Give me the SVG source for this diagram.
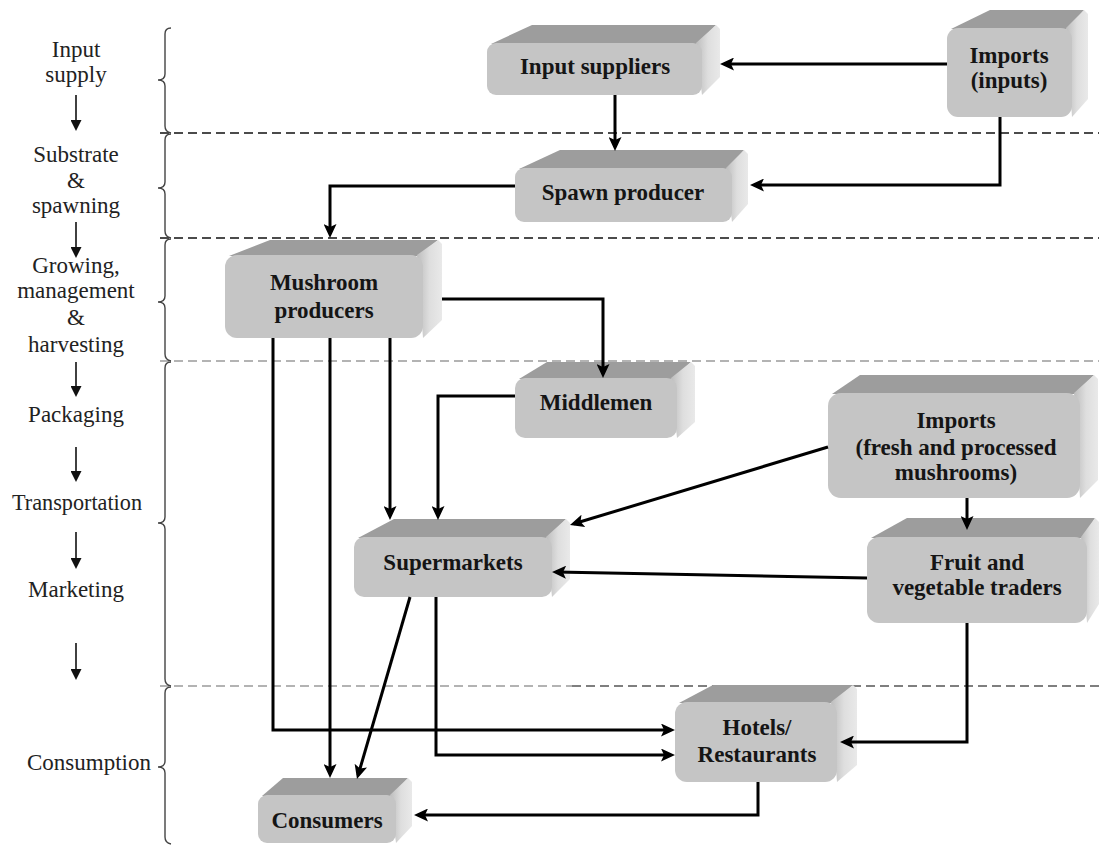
<svg xmlns="http://www.w3.org/2000/svg" width="1099" height="846" viewBox="0 0 1099 846">
<style>
.top{fill:#9d9d9d}
.side{fill:url(#sg)}
.front{fill:#c5c5c5}
.bl{font-family:'Liberation Serif','DejaVu Serif',serif;font-weight:bold;font-size:23px;fill:#151515;text-anchor:middle}
.lbl{font-family:'Liberation Serif','DejaVu Serif',serif;font-size:23px;fill:#222;text-anchor:middle}
.conn{fill:none;stroke:#000;stroke-width:3;marker-end:url(#ah)}
.larr{stroke:#111;stroke-width:1.6;marker-end:url(#sm)}
.brace{fill:none;stroke:#444;stroke-width:1.4}
.dk{stroke:#111;stroke-width:1.4;stroke-dasharray:9 5}
.gr{stroke:#9a9a9a;stroke-width:1.4;stroke-dasharray:9 5}
.gd{stroke:#555;stroke-width:1.4;stroke-dasharray:9 5}
</style>
<defs>
<linearGradient id="sg" x1="0" y1="0" x2="1" y2="0">
<stop offset="0" stop-color="#bdbdbd"/>
<stop offset="0.5" stop-color="#dedede"/>
<stop offset="1" stop-color="#e9e9e9"/>
</linearGradient>
<marker id="ah" markerUnits="userSpaceOnUse" markerWidth="15" markerHeight="13" refX="10" refY="6.5" orient="auto">
<path d="M0,0 L14,6.5 L0,13 L3,6.5 z" fill="#000"/>
</marker>
<marker id="sm" markerUnits="userSpaceOnUse" markerWidth="11" markerHeight="11" refX="9" refY="5.5" orient="auto">
<path d="M0,0 L11,5.5 L0,11 z" fill="#111"/>
</marker>
</defs>
<rect width="1099" height="846" fill="#fff"/>

<g id="stages">
<line class="dk" x1="160" y1="133" x2="1099" y2="133"/>
<line class="dk" x1="160" y1="238" x2="1099" y2="238"/>
<line class="gr" x1="160" y1="361" x2="1099" y2="361"/>
<line class="gr" x1="160" y1="686" x2="572" y2="686"/>
<line class="gd" x1="572" y1="686" x2="1099" y2="686"/>
<path class="brace" d="M171 28 Q165 28 165 34 L165 74 Q165 80 158 80 Q165 80 165 86 L165 126 Q165 132 171 133"/>
<path class="brace" d="M171 134 Q165 134 165 140 L165 182 Q165 188 158 188 Q165 188 165 194 L165 231 Q165 237 171 238"/>
<path class="brace" d="M171 239 Q165 239 165 245 L165 296 Q165 302 158 302 Q165 302 165 308 L165 354 Q165 360 171 361"/>
<path class="brace" d="M171 362 Q165 362 165 368 L165 517 Q165 523 158 523 Q165 523 165 529 L165 679 Q165 685 171 686"/>
<path class="brace" d="M171 687 Q165 687 165 693 L165 761 Q165 767 158 767 Q165 767 165 773 L165 837 Q165 843 171 844"/>
<text class="lbl" font-family="Liberation Serif" x="76" y="57">Input</text>
<text class="lbl" font-family="Liberation Serif" x="76" y="82">supply</text>
<line class="larr" x1="76" y1="95" x2="76" y2="129"/>
<text class="lbl" font-family="Liberation Serif" x="76" y="162">Substrate</text>
<text class="lbl" font-family="Liberation Serif" x="76" y="188">&amp;</text>
<text class="lbl" font-family="Liberation Serif" x="76" y="213">spawning</text>
<line class="larr" x1="76" y1="222" x2="76" y2="256"/>
<text class="lbl" font-family="Liberation Serif" x="76" y="273">Growing,</text>
<text class="lbl" font-family="Liberation Serif" x="76" y="298">management</text>
<text class="lbl" font-family="Liberation Serif" x="76" y="325">&amp;</text>
<text class="lbl" font-family="Liberation Serif" x="76" y="352">harvesting</text>
<line class="larr" x1="76" y1="362" x2="76" y2="395"/>
<text class="lbl" font-family="Liberation Serif" x="76" y="422">Packaging</text>
<line class="larr" x1="76" y1="447" x2="76" y2="480"/>
<text class="lbl" font-family="Liberation Serif" x="77" y="510" textLength="130" lengthAdjust="spacingAndGlyphs">Transportation</text>
<line class="larr" x1="76" y1="532" x2="76" y2="567"/>
<text class="lbl" font-family="Liberation Serif" x="76" y="597">Marketing</text>
<line class="larr" x1="76" y1="643" x2="76" y2="678"/>
<text class="lbl" font-family="Liberation Serif" x="89" y="770">Consumption</text>
</g>

<g id="input-suppliers">
<polygon class="top" points="491,44 532,25 716,25 698,44"/>
<polygon class="side" points="696,43 716,25 720,29 720,77 702,95"/>
<rect class="front" x="487" y="43" width="215" height="52" rx="9"/>
<text class="bl" font-family="Liberation Serif" x="595" y="74">Input suppliers</text>
</g>

<g id="imports-inputs">
<polygon class="top" points="951,29 990,10 1084,10 1068,29"/>
<polygon class="side" points="1066,28 1084,10 1088,14 1088,99 1072,117"/>
<rect class="front" x="947" y="28" width="125" height="89" rx="11"/>
<text class="bl" font-family="Liberation Serif" x="1009" y="63">Imports</text>
<text class="bl" font-family="Liberation Serif" x="1009" y="88">(inputs)</text>
</g>

<g id="spawn-producer">
<polygon class="top" points="519,169 560,150 744,150 728,169"/>
<polygon class="side" points="726,168 744,150 748,154 748,204 732,222"/>
<rect class="front" x="515" y="168" width="217" height="54" rx="9"/>
<text class="bl" font-family="Liberation Serif" x="623" y="200">Spawn producer</text>
</g>

<g id="mushroom-producers">
<polygon class="top" points="229,256 270,240 438,240 419,256"/>
<polygon class="side" points="417,255 438,240 442,244 442,320 423,338"/>
<rect class="front" x="225" y="255" width="198" height="83" rx="12"/>
<text class="bl" font-family="Liberation Serif" x="324" y="290">Mushroom</text>
<text class="bl" font-family="Liberation Serif" x="324" y="318">producers</text>
</g>

<g id="middlemen">
<polygon class="top" points="519,379 547,362 691,362 673,379"/>
<polygon class="side" points="671,378 691,362 695,366 695,422 677,438"/>
<rect class="front" x="515" y="378" width="162" height="60" rx="10"/>
<text class="bl" font-family="Liberation Serif" x="596" y="410">Middlemen</text>
</g>

<g id="imports-fresh">
<polygon class="top" points="832,394 860,375 1094,375 1076,394"/>
<polygon class="side" points="1074,393 1094,375 1098,379 1098,480 1080,498"/>
<rect class="front" x="828" y="393" width="252" height="105" rx="13"/>
<text class="bl" font-family="Liberation Serif" x="956" y="428">Imports</text>
<text class="bl" font-family="Liberation Serif" x="956" y="455">(fresh and processed</text>
<text class="bl" font-family="Liberation Serif" x="956" y="480">mushrooms)</text>
</g>

<g id="fruit-traders">
<polygon class="top" points="871,538 907,518 1095,518 1083,538"/>
<polygon class="side" points="1081,537 1095,518 1099,522 1099,604 1087,623"/>
<rect class="front" x="867" y="537" width="220" height="86" rx="12"/>
<text class="bl" font-family="Liberation Serif" x="977" y="570">Fruit and</text>
<text class="bl" font-family="Liberation Serif" x="977" y="595">vegetable traders</text>
</g>

<g id="supermarkets">
<polygon class="top" points="358,538 394,519 566,519 548,538"/>
<polygon class="side" points="546,537 566,519 570,523 570,579 552,597"/>
<rect class="front" x="354" y="537" width="198" height="60" rx="10"/>
<text class="bl" font-family="Liberation Serif" x="453" y="570">Supermarkets</text>
</g>

<g id="hotels-restaurants">
<polygon class="top" points="679,703 713,685 853,685 833,703"/>
<polygon class="side" points="831,702 853,685 857,689 857,765 837,782"/>
<rect class="front" x="675" y="702" width="162" height="80" rx="12"/>
<text class="bl" font-family="Liberation Serif" x="757" y="735">Hotels/</text>
<text class="bl" font-family="Liberation Serif" x="757" y="762">Restaurants</text>
</g>

<g id="consumers">
<polygon class="top" points="262,796 283,778 408,778 392,796"/>
<polygon class="side" points="390,795 408,778 412,782 412,826 396,843"/>
<rect class="front" x="258" y="795" width="138" height="48" rx="9"/>
<text class="bl" font-family="Liberation Serif" x="327" y="828">Consumers</text>
</g>

<g id="connectors">
<path class="conn" d="M947 64 L724 64"/>
<path class="conn" d="M615 95 L615 147"/>
<path class="conn" d="M1000 117 L1000 185 L754 185"/>
<path class="conn" d="M515 186 L330 186 L330 234"/>
<path class="conn" d="M442 299 L603 299 L603 374"/>
<path class="conn" d="M390 338 L390 516"/>
<path class="conn" d="M515 396 L438 396 L438 516"/>
<path class="conn" d="M273 338 L273 730 L671 730"/>
<path class="conn" d="M330 338 L330 774"/>
<path class="conn" d="M410 597 L358.1 775.2"/>
<path class="conn" d="M436 597 L436 755 L671 755"/>
<path class="conn" d="M828 447 L573.8 523.8"/>
<path class="conn" d="M867 578 L556 572"/>
<path class="conn" d="M967 498 L967 526"/>
<path class="conn" d="M967 623 L967 742 L844 742"/>
<path class="conn" d="M758 782 L758 815 L418 815"/>
</g>
</svg>
